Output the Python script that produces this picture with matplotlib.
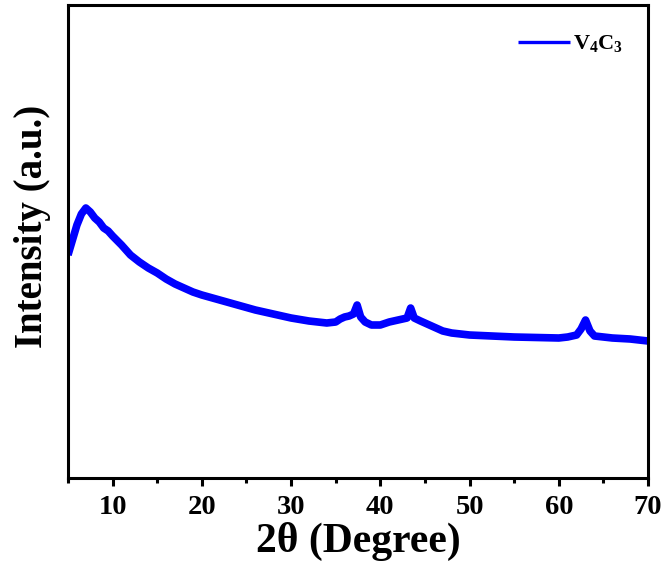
import matplotlib
matplotlib.use("Agg")
import matplotlib.pyplot as plt
from matplotlib.ticker import MultipleLocator

plt.rcParams['font.family'] = ['Liberation Serif', 'DejaVu Serif']
plt.rcParams['font.weight'] = 'bold'
plt.rcParams['mathtext.fontset'] = 'custom'
plt.rcParams['mathtext.rm'] = 'Liberation Serif:bold'
plt.rcParams['mathtext.it'] = 'Liberation Serif:bold'
plt.rcParams['mathtext.bf'] = 'Liberation Serif:bold'

two_theta = [5.0, 5.5, 6.0, 6.5, 7.0, 7.5, 8.0, 8.5, 9.0, 9.5, 10, 11, 12, 13, 14, 15, 16, 17, 18, 19,
             20, 22, 24, 26, 28, 30, 32, 34, 35, 35.5, 36, 36.5, 37, 37.4, 37.8, 38.3, 39, 40, 41, 42,
             43, 43.4, 43.8, 44.5, 45, 46, 47, 48, 50, 55, 60, 61, 62, 62.5, 63, 63.5, 64, 66, 68, 70]
intensity = [223, 238, 253, 264, 270, 266, 260, 256, 250, 247, 242, 233, 223, 216, 210, 205, 199, 194, 190, 186,
             183, 178, 173, 168, 164, 160, 157, 155, 156, 159, 161, 162, 164, 173, 161, 156, 153, 153, 156, 158,
             160, 170, 160, 157, 155, 151, 147, 145, 143, 141, 140, 141, 143, 149, 158, 147, 142, 140, 139, 137]
series_label = 'V$_4$C$_3$'

fig = plt.figure(figsize=(6.64, 5.67), dpi=100)
ax = fig.add_axes([68/664, 89/567, 580/664, 473/567])
ax.plot(two_theta, intensity, color='#0000FF', lw=5.5, solid_joinstyle='round',
        solid_capstyle='butt', label=series_label)

ax.set_xlim(5, 70)
ax.set_ylim(0, 473)
ax.xaxis.set_major_locator(MultipleLocator(10))
ax.xaxis.set_minor_locator(MultipleLocator(5))
ax.set_yticks([])
ax.tick_params(axis='x', which='major', direction='out', length=6, width=2.2, labelsize=20.5, pad=6)
ax.tick_params(axis='x', which='minor', direction='out', length=3.5, width=2.2)
for lbl in ax.get_xticklabels():
    lbl.set_fontweight('bold')
for s in ax.spines.values():
    s.set_linewidth(2.2)

ax.set_xlabel('2θ (Degree)', fontsize=30, fontweight='bold', labelpad=2)
ax.set_ylabel('Intensity (a.u.)', fontsize=28, fontweight='bold')
ax.yaxis.set_label_coords(-0.030, 0.531)

leg = ax.legend(loc='upper right', frameon=False, fontsize=16, handlelength=2.35,
                bbox_to_anchor=(0.957, 0.94), handletextpad=0.15, borderpad=0, borderaxespad=0)
for l in leg.get_lines():
    l.set_linewidth(2.4)

fig.savefig('out.png', dpi=100)
